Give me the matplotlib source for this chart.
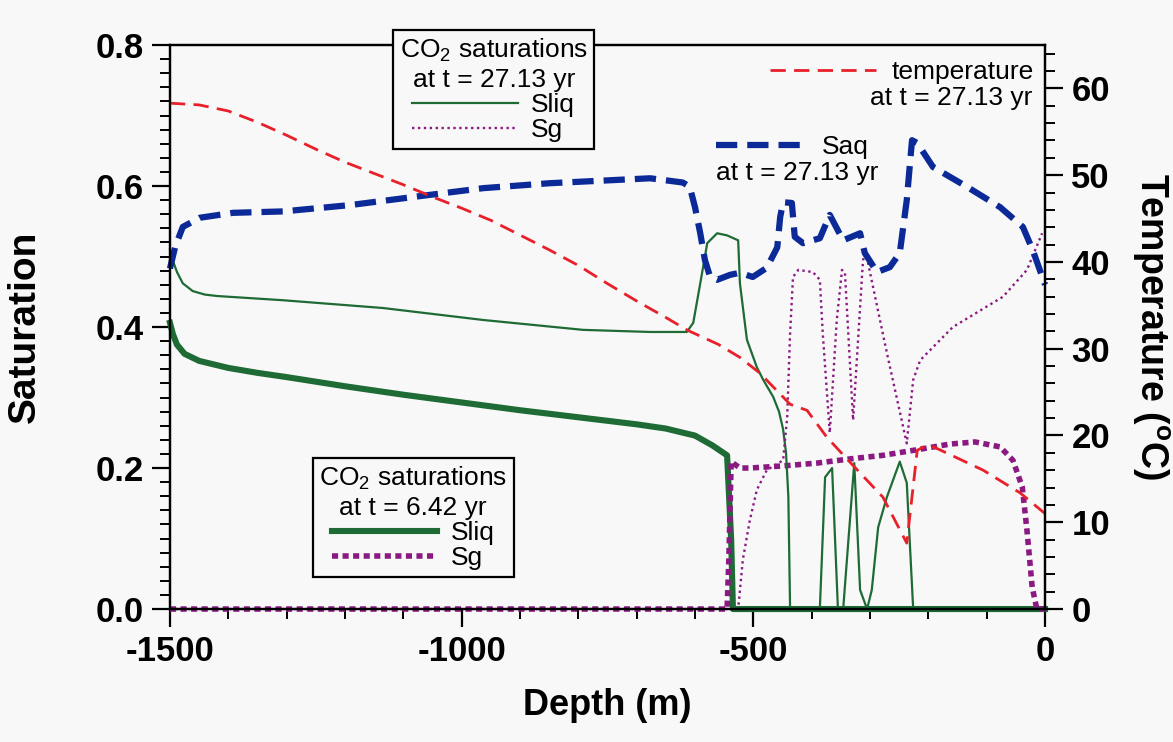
import matplotlib
matplotlib.use("Agg")
import matplotlib.pyplot as plt
from matplotlib.ticker import MultipleLocator, FormatStrFormatter

plt.rcParams["font.family"] = ["Liberation Sans", "DejaVu Sans"]
plt.rcParams["axes.unicode_minus"] = False
plt.rcParams["mathtext.fontset"] = "custom"
plt.rcParams["mathtext.rm"] = "Liberation Sans"
plt.rcParams["mathtext.bf"] = "Liberation Sans:bold"

# temperature at t = 27.13 yr (deg C)
temp_depth = [-1500, -1450, -1400, -1350, -1300, -1250, -1200, -1150, -1100, -1050,
              -1000, -950, -900, -850, -800, -750, -700, -650, -612, -560,
              -523, -489, -437, -408, -374, -334, -278, -237, -219, -202,
              -185, -106, -43, 0]
temp_c = [58.3, 58.1, 57.4, 56.1, 54.6, 53.0, 51.5, 50.2, 48.9, 47.5,
          46.2, 44.8, 43.1, 41.4, 39.6, 37.5, 35.5, 33.6, 32.1, 30.5,
          29.0, 27.2, 23.6, 22.9, 19.8, 16.9, 12.9, 7.6, 18.3, 18.9,
          18.5, 16.0, 13.4, 11.0]

# Saq at t = 27.13 yr
saq_depth = [-1500, -1491, -1478, -1449, -1392, -1306, -1191, -1059, -963, -849,
             -677, -621, -609, -600, -591, -583, -574, -562, -540, -523,
             -501, -477, -459, -454, -449, -434, -429, -415, -386, -369,
             -346, -317, -309, -288, -266, -249, -237, -228, -219, -192,
             -134, -77, -38, -21, 0]
saq = [0.483, 0.514, 0.542, 0.555, 0.562, 0.564, 0.573, 0.587, 0.597, 0.604,
       0.611, 0.605, 0.599, 0.570, 0.533, 0.495, 0.471, 0.467, 0.474, 0.477,
       0.471, 0.484, 0.513, 0.556, 0.577, 0.576, 0.528, 0.519, 0.526, 0.559,
       0.523, 0.533, 0.505, 0.478, 0.485, 0.505, 0.580, 0.665, 0.661, 0.627,
       0.599, 0.570, 0.542, 0.509, 0.460]

# CO2 saturations at t = 27.13 yr
sliq27_depth = [-1500, -1495, -1488, -1478, -1461, -1440, -1419, -1306, -1135, -963,
                -792, -677, -614, -603, -591, -579, -562, -545, -526, -523,
                -511, -494, -483, -466, -456, -449, -444, -440, -437, -386,
                -377, -365, -355, -346, -327, -317, -305, -297, -286, -271,
                -249, -237, -226, 0]
sliq27 = [0.510, 0.494, 0.478, 0.462, 0.451, 0.446, 0.444, 0.438, 0.427, 0.410,
          0.396, 0.393, 0.393, 0.406, 0.462, 0.519, 0.533, 0.530, 0.523, 0.462,
          0.382, 0.343, 0.325, 0.301, 0.280, 0.255, 0.222, 0.160, 0.0, 0.0,
          0.187, 0.200, 0.0, 0.0, 0.207, 0.027, 0.0, 0.027, 0.116, 0.159,
          0.209, 0.179, 0.0, 0.0]

sg27_depth = [-1500, -526, -518, -506, -494, -477, -449, -442, -437, -432,
              -423, -398, -386, -381, -369, -357, -348, -343, -329, -312,
              -307, -271, -237, -226, -214, -158, -72, -31, -5]
sg27 = [0.0, 0.0, 0.07, 0.126, 0.169, 0.197, 0.211, 0.272, 0.391, 0.471,
        0.481, 0.478, 0.467, 0.391, 0.250, 0.410, 0.481, 0.477, 0.268, 0.495,
        0.505, 0.363, 0.235, 0.325, 0.353, 0.400, 0.443, 0.481, 0.533]

# CO2 saturations at t = 6.42 yr
sliq6_depth = [-1500, -1495, -1488, -1475, -1450, -1400, -1350, -1300, -1200, -1100,
               -1000, -900, -800, -700, -650, -600, -570, -545, -538, -535, 0]
sliq6 = [0.406, 0.390, 0.375, 0.362, 0.352, 0.342, 0.335, 0.329, 0.316, 0.304,
         0.293, 0.282, 0.272, 0.262, 0.256, 0.246, 0.232, 0.218, 0.098, 0.0, 0.0]

sg6_depth = [-1500, -545, -542, -538, -523, -506, -449, -391, -334, -278,
             -219, -163, -120, -77, -55, -39, -31, -22, -14, 0]
sg6 = [0.0, 0.0, 0.07, 0.209, 0.200, 0.200, 0.203, 0.207, 0.213, 0.218,
       0.226, 0.234, 0.237, 0.230, 0.211, 0.173, 0.112, 0.031, 0.0, 0.0]

BG = "#f8f8f8"
RED = "#e8202a"
BLUE = "#0b2a98"
GREEN = "#1e6b35"
PURPLE = "#8a1a82"

fig = plt.figure(figsize=(11.73, 7.42), dpi=100, facecolor=BG)
ax = fig.add_axes([0.1449, 0.1792, 0.7460, 0.7601], facecolor=BG)
ax2 = ax.twinx()

l_sliq6, = ax.plot(sliq6_depth, sliq6, color=GREEN, lw=4.4, clip_on=False)
l_sg6, = ax.plot(sg6_depth, sg6, color=PURPLE, lw=4.0, dashes=(1.1, 0.8),
                 clip_on=False)
l_sliq27, = ax.plot(sliq27_depth, sliq27, color=GREEN, lw=1.6, clip_on=False)
l_sg27, = ax.plot(sg27_depth, sg27, color=PURPLE, lw=1.7, dashes=(1, 1.5),
                  clip_on=False)
l_saq, = ax.plot(saq_depth, saq, color=BLUE, lw=4.5, dashes=(3.4, 1.6),
                 clip_on=False)
l_temp, = ax2.plot(temp_depth, temp_c, color=RED, lw=2.0, dashes=(5.5, 3),
                   clip_on=False)

ax.set_xlim(-1500, 0)
ax.set_ylim(0, 0.8)
ax2.set_ylim(0, 65)

ax.xaxis.set_major_locator(MultipleLocator(500))
ax.xaxis.set_minor_locator(MultipleLocator(100))
ax.yaxis.set_major_locator(MultipleLocator(0.2))
ax.yaxis.set_minor_locator(MultipleLocator(0.02))
ax.yaxis.set_major_formatter(FormatStrFormatter("%.1f"))
ax2.yaxis.set_major_locator(MultipleLocator(10))
ax2.yaxis.set_minor_locator(MultipleLocator(2))

for a in (ax, ax2):
    for s in a.spines.values():
        s.set_linewidth(1.6)
    a.tick_params(which="major", direction="out", length=13, width=1.6,
                  labelsize=25, pad=6)
    a.tick_params(which="minor", direction="out", length=7, width=1.4)
for lab in ax.get_xticklabels() + ax.get_yticklabels() + ax2.get_yticklabels():
    lab.set_fontweight("bold")

ax.set_xlabel("Depth (m)", fontsize=26, fontweight="bold", labelpad=14)
ax.set_ylabel("Saturation", fontsize=28, fontweight="bold", labelpad=38)
ax2.set_ylabel(r"Temperature ($^{\mathbf{o}}$C)", fontsize=27,
               fontweight="bold", rotation=270, labelpad=44)

leg_kw = dict(fontsize=19, title_fontsize=19, fancybox=False, framealpha=1,
              facecolor=BG, edgecolor="black", borderpad=0.25,
              labelspacing=0.05, handletextpad=0.5, borderaxespad=0)

leg1 = ax2.legend([l_sliq27, l_sg27], ["Sliq", "Sg"],
                  title="CO$_2$ saturations\nat t = 27.13 yr",
                  loc="upper center", bbox_to_anchor=(0.370, 1.027),
                  handlelength=4.0, **leg_kw)
leg1.get_frame().set_linewidth(1.6)
leg1.get_title().set_multialignment("center")
leg1.set_zorder(10)
ax2.add_artist(leg1)

leg2 = ax2.legend([l_sliq6, l_sg6], ["Sliq", "Sg"],
                  title="CO$_2$ saturations\nat t = 6.42 yr",
                  loc="lower center", bbox_to_anchor=(0.278, 0.057),
                  handlelength=4.0, **leg_kw)
leg2.get_frame().set_linewidth(1.6)
leg2.get_title().set_multialignment("center")
ax2.add_artist(leg2)

leg3 = ax2.legend([l_temp], ["temperature"], loc="center right",
                  bbox_to_anchor=(0.987, 0.952), frameon=False, fontsize=19,
                  handlelength=4.0, handletextpad=0.6, borderaxespad=0,
                  borderpad=0)
ax2.add_artist(leg3)
ax2.text(0.986, 0.906, "at t = 27.13 yr", transform=ax2.transAxes,
         ha="right", va="center", fontsize=19)

leg4 = ax2.legend([l_saq], ["Saq"], loc="center right",
                  bbox_to_anchor=(0.798, 0.819), frameon=False, fontsize=19,
                  handlelength=3.5, handletextpad=0.5, borderaxespad=0,
                  borderpad=0)
ax2.text(0.809, 0.774, "at t = 27.13 yr", transform=ax2.transAxes,
         ha="right", va="center", fontsize=19)

fig.savefig("out.png", dpi=100, facecolor=BG)
